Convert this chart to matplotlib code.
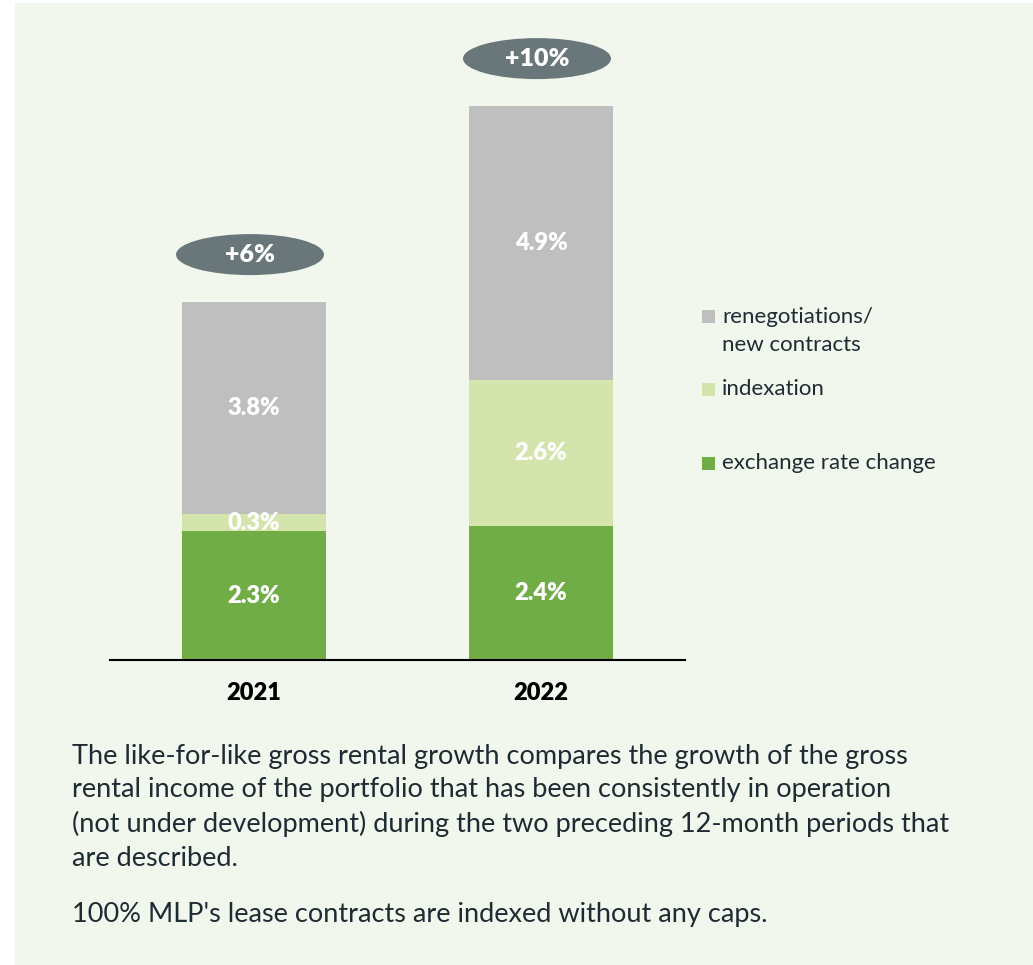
import matplotlib.pyplot as plt
from matplotlib.patches import Ellipse, Rectangle

plt.rcParams["font.family"] = ["Lato", "DejaVu Sans"]

years = ["2021", "2022"]
exchange = [2.3, 2.4]
indexation = [0.3, 2.6]
renegotiations = [3.8, 4.9]
totals = ["+6%", "+10%"]

c_exch = "#70ad47"
c_index = "#d3e5ad"
c_reneg = "#bfbfbf"
c_pill = "#69777b"
c_text = "#1f2b33"
c_bg = "#f1f7ec"

W, H = 1033, 965
fig = plt.figure(figsize=(W / 100, H / 100), dpi=100, facecolor="white")
fig.patches.append(Rectangle((15 / W, 0), 1, 1 - 3 / H, transform=fig.transFigure,
                             facecolor=c_bg, edgecolor="none", zorder=-10))

# axes placed in pixel terms: baseline at y=660, spans x 110..685
ax = fig.add_axes([110 / W, (H - 660) / H, 575 / W, 640 / H])
ax.set_facecolor("none")
px_x = 287.0   # pixels per category unit
px_y = 56.0    # pixels per percentage point
ax.set_xlim(-144 / px_x, 1 + 144 / px_x)
ax.set_ylim(0, 640 / px_y)

x = [0, 1]
bw = 144 / px_x
ax.bar(x, exchange, bw, color=c_exch, zorder=2)
ax.bar(x, indexation, bw, bottom=exchange, color=c_index, zorder=2)
bottom2 = [a + b for a, b in zip(exchange, indexation)]
ax.bar(x, renegotiations, bw, bottom=bottom2, color=c_reneg, zorder=2)

lab = dict(ha="center", va="center", color="white", fontsize=17, fontweight="heavy", zorder=3)
for i in x:
    ax.text(i, exchange[i] / 2, f"{exchange[i]:.1f}%", **lab)
    ax.text(i, exchange[i] + indexation[i] / 2, f"{indexation[i]:.1f}%", **lab)
    ax.text(i, bottom2[i] + renegotiations[i] / 2, f"{renegotiations[i]:.1f}%", **lab)
    top = bottom2[i] + renegotiations[i]
    cy = top + 47 / px_y
    ax.add_patch(Ellipse((i - 4 / px_x, cy), 148 / px_x, 41 / px_y,
                         facecolor=c_pill, edgecolor="none", clip_on=False, zorder=3))
    ax.text(i - 4 / px_x, cy, totals[i], ha="center", va="center", color="white",
            fontsize=18, fontweight="heavy", zorder=4)

for s in ["top", "right", "left"]:
    ax.spines[s].set_visible(False)
ax.spines["bottom"].set_color("black")
ax.spines["bottom"].set_linewidth(1.5)
ax.set_yticks([])
ax.set_xticks(x)
ax.set_xticklabels(years, fontsize=17, fontweight="heavy", color="black")
ax.tick_params(axis="x", length=0, pad=16)

# legend drawn as squares + text
legend_items = [(c_reneg, "renegotiations/\nnew contracts", 316, 331),
                (c_index, "indexation", 389, 389),
                (c_exch, "exchange rate change", 463, 463)]
for col, txt, ysq, ytx in legend_items:
    fig.patches.append(Rectangle((702 / W, 1 - (ysq + 7) / H), 13 / W, 13 / H,
                                 transform=fig.transFigure, facecolor=col, edgecolor="none"))
    fig.text(722 / W, 1 - ytx / H, txt, ha="left", va="center",
             fontsize=16, color=c_text, linespacing=1.5)

para1 = ("The like-for-like gross rental growth compares the growth of the gross\n"
         "rental income of the portfolio that has been consistently in operation\n"
         "(not under development) during the two preceding 12-month periods that\n"
         "are described.")
para2 = "100% MLP's lease contracts are indexed without any caps."
fig.text(72 / W, 1 - 744 / H, para1, ha="left", va="top", fontsize=19.5, color=c_text, linespacing=1.42)
fig.text(72 / W, 1 - 902 / H, para2, ha="left", va="top", fontsize=19.5, color=c_text)

fig.savefig("out.png", dpi=100, facecolor="white")
